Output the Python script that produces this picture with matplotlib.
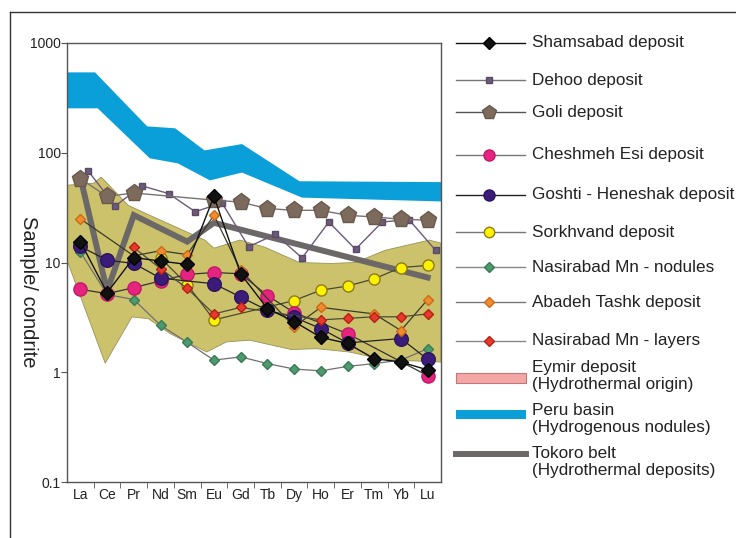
import matplotlib.pyplot as plt
from matplotlib.lines import Line2D
import numpy as np

plt.rcParams['font.family'] = ['Liberation Sans', 'DejaVu Sans']

elements = ['La', 'Ce', 'Pr', 'Nd', 'Sm', 'Eu', 'Gd', 'Tb', 'Dy', 'Ho', 'Er', 'Tm', 'Yb', 'Lu']

# chondrite-normalised REE, None = not plotted
shamsabad = [15.5, 5.3, 11.1, 10.3, 9.6, 40, 7.9, 3.8, 2.9, 2.08, 1.83, 1.33, 1.24, 1.05]
dehoo = [68, 32.7, 50, 42.5, 29, 35, 13.9, 18.1, 11.0, 23.4, 13.2, 23.4, 24.6, 12.9]
goli = [58, 40, 43, None, None, 37, 35.5, 31, 29.9, 29.9, 26.9, 26, 24.8, 24.3]
cheshmeh = [5.7, 5.2, 5.9, 6.8, 7.8, 8.1, 7.9, 5.0, 3.5, None, 2.25, None, None, 0.93]
goshti = [14, 10.5, 9.8, 7.2, None, 6.4, 4.85, 3.67, 3.17, 2.5, 1.85, None, 2.03, 1.31]
sorkhvand = [None, None, None, 11.0, 6.3, 3.0, None, None, 4.5, 5.6, 6.1, 7.1, 9.0, 9.4]
nodules = [12.5, 5.1, 4.6, 2.68, 1.87, 1.29, 1.38, 1.2, 1.07, 1.03, 1.13, 1.2, 1.29, 1.64]
abadeh = [25, None, 11.5, 12.8, 11.8, 27, 8.5, None, 2.6, 3.9, None, 3.4, 2.4, 4.6]
layers = [None, None, 13.7, 8.8, 5.8, 3.4, 3.9, None, None, 3.0, 3.1, 3.2, 3.2, 3.4]
tokoro = [60, 5.5, 27, None, 15.5, 23, None, None, None, None, None, None, None, 7.3]

# envelopes (x in element index units)
peru_hi_x = [-0.5, 0.55, 2.5, 3.55, 4.65, 6.05, 8.2, 13.5]
peru_hi = [540, 540, 174, 167, 105, 120, 55, 54]
peru_lo_x = [-0.5, 0.65, 2.6, 3.65, 4.85, 6.05, 8.3, 13.5]
peru_lo = [254, 254, 89, 80, 56, 66, 39, 36]

eymir_hi_x = [-0.5, 0.49, 0.78, 1.04, 1.79, 2.43, 3.17, 4.66, 5.0, 5.97, 6.9, 8.2, 9.33, 10.3, 11.4, 13.06, 13.5]
eymir_hi = [50.6, 52.7, 60, 51.6, 33.2, 28.1, 23.3, 16, 13.5, 16, 13.8, 10.0, 9.8, 10.0, 12.9, 16, 15]
eymir_lo_x = [-0.5, 0.93, 1.93, 2.54, 3.36, 4.73, 5.47, 6.34, 7.9, 8.83, 10.07, 11.19, 11.68, 13.5]
eymir_lo = [10.5, 1.21, 3.19, 3.08, 2.25, 1.53, 1.89, 1.96, 1.61, 1.64, 1.53, 1.33, 1.29, 1.24]

dehoo_shift = 0.3


def pts(vals, shift=0.0):
    x = [i + shift for i, v in enumerate(vals) if v is not None]
    y = [v for v in vals if v is not None]
    return x, y


fig = plt.figure(figsize=(7.36, 5.38), dpi=100)
ax = fig.add_axes([67 / 736, 1 - 482 / 538, 374 / 736, 439 / 538])

ax.fill(peru_hi_x + peru_lo_x[::-1], peru_hi + peru_lo[::-1],
        color='#0a9fd8', lw=0, zorder=1)
ax.fill(eymir_hi_x + eymir_lo_x[::-1], eymir_hi + eymir_lo[::-1],
        facecolor='#cdc26c', edgecolor='#9a9258', lw=0.6, zorder=1)

x, y = pts(tokoro)
ax.plot(x, y, color='#6d6868', lw=4.3, solid_joinstyle='miter', zorder=2)

series = [
    (dehoo, dict(marker='s', ms=4.3, mfc='#6b5a78', mec='#5a4a66', color='#6b5a78', lw=1.0), dehoo_shift),
    (goli, dict(marker='p', ms=12.5, mfc='#7c6a5c', mec='#6a5a4e', color='#7a7070', lw=1.0), 0),
    (nodules, dict(marker='D', ms=5.2, mfc='#4e9a6e', mec='#3a7a55', color='#6f6f6f', lw=0.9), 0),
    (sorkhvand, dict(marker='o', ms=8, mfc='#fff200', mec='#8a7a20', color='#4a4a2a', lw=0.9), 0),
    (cheshmeh, dict(marker='o', ms=9.5, mfc='#e5247f', mec='#c01a68', color='#333333', lw=0.9), 0),
    (goshti, dict(marker='o', ms=9.8, mfc='#3b1c78', mec='#2c1460', color='#222222', lw=0.9), 0),
    (abadeh, dict(marker='D', ms=5.2, mfc='#f08c2d', mec='#c96a1a', color='#3a3a2a', lw=0.9), 0),
    (layers, dict(marker='D', ms=5.2, mfc='#e53a2c', mec='#b32015', color='#4a4a3a', lw=0.9), 0),
    (shamsabad, dict(marker='D', ms=7.6, mfc='#111111', mec='#000000', color='#111111', lw=1.0), 0),
]
for z, (vals, style, shift) in enumerate(series):
    x, y = pts(vals, shift)
    ax.plot(x, y, zorder=3 + z, **style)

ax.set_yscale('log')
ax.set_ylim(0.1, 1000)
ax.set_xlim(-0.5, 13.5)
ax.set_yticks([0.1, 1, 10, 100, 1000])
ax.set_yticklabels(['0.1', '1', '10', '100', '1000'])
ax.yaxis.set_minor_locator(plt.NullLocator())
ax.set_xticks(range(len(elements)))
ax.set_xticklabels(elements)
ax.set_xticks(np.arange(0.5, 13, 1), minor=True)
ax.tick_params(axis='x', which='major', length=0, labelsize=10, pad=4, colors='#222222')
ax.tick_params(axis='x', which='minor', length=4, direction='out', color='#555555')
ax.tick_params(axis='y', length=4, direction='out', labelsize=10, pad=0.5,
               color='#555555', labelcolor='#222222')
for sp in ax.spines.values():
    sp.set_color('#555555')
    sp.set_linewidth(1.0)

fig.text(28 / 736, 1 - 292 / 538, 'Sample/ condrite', rotation=270, fontsize=14.5,
         ha='center', va='center', color='#222222')

# outer frame, left and top only
fig.add_artist(Line2D([10 / 736, 10 / 736], [0, 1 - 12 / 538], transform=fig.transFigure, color='#333333', lw=1))
fig.add_artist(Line2D([10 / 736, 1], [1 - 12 / 538, 1 - 12 / 538], transform=fig.transFigure, color='#333333', lw=1))

# legend drawn by hand on a pixel-scaled overlay
leg = fig.add_axes([0, 0, 1, 1])
leg.set_xlim(0, 736)
leg.set_ylim(538, 0)
leg.axis('off')
fs = 12.3

legend_rows = [
    ('Shamsabad deposit', 43, dict(marker='D', ms=6.5, mfc='#111111', mec='#000000', color='#111111')),
    ('Dehoo deposit', 80, dict(marker='s', ms=4.5, mfc='#6b5a78', mec='#5a4a66', color='#777777')),
    ('Goli deposit', 112, dict(marker='p', ms=10.5, mfc='#7c6a5c', mec='#6a5a4e', color='#555555')),
    ('Cheshmeh Esi deposit', 155, dict(marker='o', ms=8, mfc='#e5247f', mec='#c01a68', color='#777777')),
    ('Goshti - Heneshak deposit', 195, dict(marker='o', ms=8, mfc='#3b1c78', mec='#2c1460', color='#222222')),
    ('Sorkhvand deposit', 232, dict(marker='o', ms=7.5, mfc='#fff200', mec='#8a7a20', color='#777777')),
    ('Nasirabad Mn - nodules', 267, dict(marker='D', ms=5, mfc='#4e9a6e', mec='#3a7a55', color='#888888')),
    ('Abadeh Tashk deposit', 302, dict(marker='D', ms=5, mfc='#f08c2d', mec='#c96a1a', color='#777777')),
    ('Nasirabad Mn - layers', 341, dict(marker='D', ms=5, mfc='#e53a2c', mec='#b32015', color='#888888')),
]
for label, yy, style in legend_rows:
    leg.plot([456, 525], [yy, yy], lw=1.0, color=style['color'])
    leg.plot([489], [yy], ls='none', **{k: v for k, v in style.items() if k != 'color'})
    leg.text(532, yy, label, fontsize=fs, va='center', ha='left', color='#222222')

leg.fill_between([456, 526], 373, 383, color='#f4a6a4', ec='#c07878', lw=0.8)
leg.text(532, 376, 'Eymir deposit\n(Hydrothermal origin)', fontsize=fs, va='center',
         ha='left', color='#222222', linespacing=1.12)
leg.fill_between([456, 526], 410, 419, color='#0a9fd8', lw=0)
leg.text(532, 419, 'Peru basin\n(Hydrogenous nodules)', fontsize=fs, va='center',
         ha='left', color='#222222', linespacing=1.12)
leg.plot([456, 526], [454, 454], color='#6d6868', lw=4.3)
leg.text(532, 462, 'Tokoro belt\n(Hydrothermal deposits)', fontsize=fs, va='center',
         ha='left', color='#222222', linespacing=1.12)

fig.savefig('out.png', dpi=100)
